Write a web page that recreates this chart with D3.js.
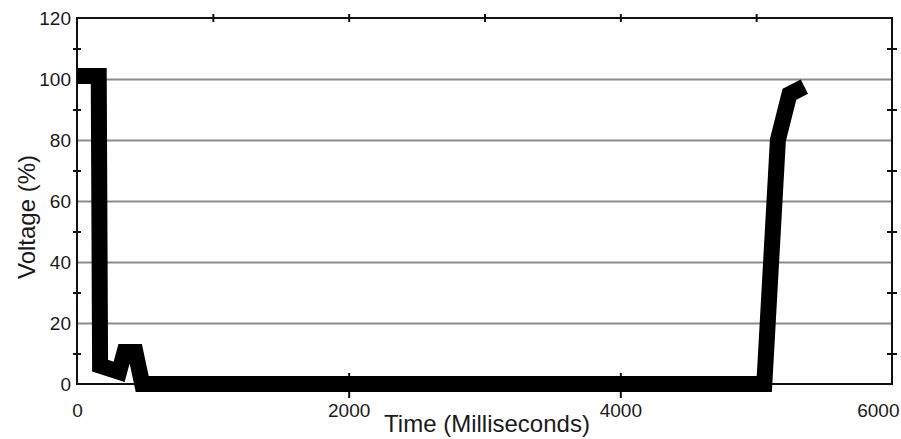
<!DOCTYPE html>
<html>
<head>
<meta charset="utf-8">
<script src="https://cdn.jsdelivr.net/npm/d3@7"></script>
<style>
  html, body { margin: 0; padding: 0; background: #fff; }
  svg { display: block; font-family: "Liberation Sans", Arial, Helvetica, sans-serif; }
</style>
</head>
<body>
<div id="chart"></div>
<script>
// voltage trace
const timeMs  = [0, 160, 170, 310, 350, 430, 480, 5060, 5160, 5245, 5355];
const voltage = [101, 101, 6, 4, 10.5, 10.5, 0, 0, 80, 95, 97.5];

const yLabels = [0, 20, 40, 60, 80, 100, 120];
const yGrid = [20, 40, 60, 80, 100];
const yMinor = [10, 30, 50, 70, 90, 110];
const xLabels = [0, 2000, 4000, 6000];
const xTopTicks = [1000, 2000, 3000, 4000, 5000];
const xBottomTicks = [2000, 4000];

const W = 901, H = 439;
const plotL = 77, plotR = 892, plotT = 18, plotB = 384;

const x = d3.scaleLinear().domain([0, 6000]).range([plotL, plotR]);
const y = d3.scaleLinear().domain([0, 120]).range([plotB, plotT]);

const svg = d3.select('#chart').append('svg')
  .attr('width', W)
  .attr('height', H);

// gray grid lines
const grid = svg.append('g')
  .attr('transform', `translate(${plotL},0)`)
  .call(d3.axisLeft(y).tickValues(yGrid).tickSize(-(plotR - plotL)).tickFormat(''));
grid.select('.domain').remove();
grid.selectAll('line').attr('stroke', '#8c8c8c').attr('stroke-width', 1.8);

// frame
svg.append('rect')
  .attr('x', plotL).attr('y', plotT)
  .attr('width', plotR - plotL).attr('height', plotB - plotT)
  .attr('fill', 'none').attr('stroke', '#111').attr('stroke-width', 2);

// small crossing ticks on the frame
function crossTicks(g) {
  g.select('.domain').remove();
  g.selectAll('line').attr('stroke', '#111').attr('stroke-width', 2);
}
svg.append('g').attr('transform', `translate(${plotL + 4},0)`)
  .call(d3.axisLeft(y).tickValues(yMinor).tickSize(8).tickFormat(''))
  .call(crossTicks);
svg.append('g').attr('transform', `translate(${plotR - 5},0)`)
  .call(d3.axisRight(y).tickValues(yMinor).tickSize(10).tickFormat(''))
  .call(crossTicks);
svg.append('g').attr('transform', `translate(0,${plotT + 4})`)
  .call(d3.axisTop(x).tickValues(xTopTicks).tickSize(8).tickFormat(''))
  .call(crossTicks);
svg.append('g').attr('transform', `translate(0,${plotB - 11})`)
  .call(d3.axisBottom(x).tickValues(xBottomTicks).tickSize(25).tickFormat(''))
  .call(crossTicks);

// y labels
const yAxis = svg.append('g')
  .attr('transform', `translate(${plotL},0)`)
  .call(d3.axisLeft(y).tickValues(yLabels).tickSize(0).tickPadding(6));
yAxis.select('.domain').remove();
yAxis.selectAll('text')
  .attr('font-size', 19).attr('font-family', null).attr('fill', '#1a1a1a');

// x labels
const xAxis = svg.append('g')
  .attr('transform', `translate(0,${plotB})`)
  .call(d3.axisBottom(x).tickValues(xLabels).tickFormat(d3.format('d')).tickSize(0).tickPadding(20));
xAxis.select('.domain').remove();
xAxis.selectAll('text')
  .attr('font-size', 19).attr('font-family', null).attr('fill', '#1a1a1a');
xAxis.selectAll('.tick').filter(d => d === 6000).select('text')
  .attr('text-anchor', 'end').attr('x', 7);

// axis titles
svg.append('text')
  .attr('x', 487).attr('y', 432)
  .attr('text-anchor', 'middle')
  .attr('font-size', 24).attr('fill', '#1a1a1a')
  .text('Time (Milliseconds)');

svg.append('text')
  .attr('transform', 'translate(35,217) rotate(-90)')
  .attr('text-anchor', 'middle')
  .attr('font-size', 24).attr('fill', '#1a1a1a')
  .text('Voltage (%)');

// thick voltage trace
const line = d3.line()
  .x((d, i) => x(timeMs[i]))
  .y(d => y(d));

svg.append('path')
  .datum(voltage)
  .attr('d', line)
  .attr('fill', 'none')
  .attr('stroke', '#000')
  .attr('stroke-width', 16)
  .attr('stroke-linejoin', 'miter')
  .attr('stroke-miterlimit', 10)
  .attr('stroke-linecap', 'butt');
</script>
</body>
</html>
